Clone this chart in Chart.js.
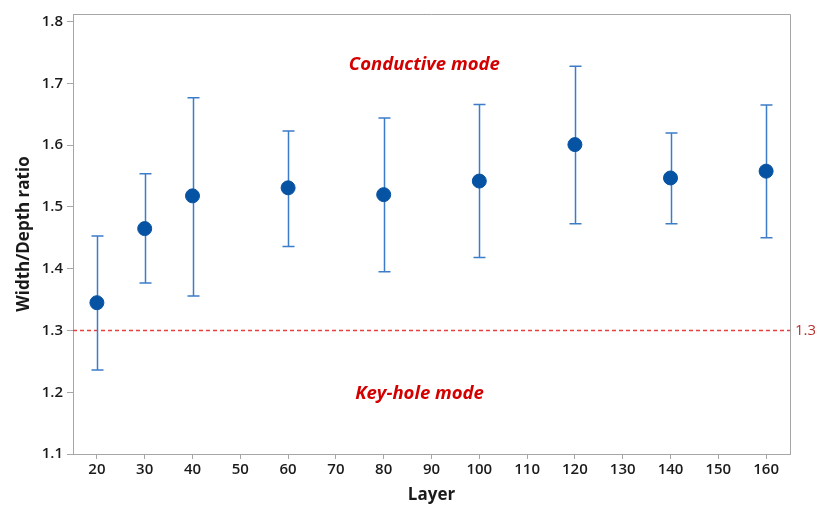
<!DOCTYPE html>
<html>
<head>
<meta charset="utf-8">
<script src="https://cdn.jsdelivr.net/npm/chart.js@4/dist/chart.umd.min.js"></script>
<style>
html,body{margin:0;padding:0;background:#fff;}
#wrap{width:815px;height:505px;}
</style>
</head>
<body>
<div id="wrap"><canvas id="c" width="815" height="505"></canvas></div>
<script>
const layers = [20, 30, 40, 60, 80, 100, 120, 140, 160];
const means  = [1.345, 1.465, 1.518, 1.531, 1.520, 1.542, 1.601, 1.547, 1.558];
const upper  = [1.453, 1.554, 1.677, 1.623, 1.644, 1.666, 1.728, 1.620, 1.665];
const lower  = [1.236, 1.377, 1.356, 1.436, 1.395, 1.418, 1.473, 1.473, 1.450];
const xTicks = [20, 30, 40, 50, 60, 70, 80, 90, 100, 110, 120, 130, 140, 150, 160];
const yTicks = [1.1, 1.2, 1.3, 1.4, 1.5, 1.6, 1.7, 1.8];
const refValue = 1.3;
const notes = [
  {text: 'Conductive mode', x: 88.5, y: 1.731},
  {text: 'Key-hole mode', x: 87.5, y: 1.197}
];

const FONT = '"Open Sans", "Noto Sans", sans-serif';

const errorBars = {
  id: 'errorBars',
  beforeDatasetsDraw(chart) {
    const {ctx, scales: {x, y}} = chart;
    ctx.save();
    ctx.strokeStyle = '#3D7CC9';
    ctx.lineWidth = 1.5;
    layers.forEach((l, i) => {
      const px = Math.round(x.getPixelForValue(l)) + 0.5;
      const pu = y.getPixelForValue(upper[i]);
      const pl = y.getPixelForValue(lower[i]);
      ctx.beginPath();
      ctx.moveTo(px, pu); ctx.lineTo(px, pl);
      ctx.moveTo(px - 6, pu); ctx.lineTo(px + 6, pu);
      ctx.moveTo(px - 6, pl); ctx.lineTo(px + 6, pl);
      ctx.stroke();
    });
    ctx.restore();
  }
};

const extras = {
  id: 'extras',
  beforeDatasetsDraw(chart) {
    const {ctx, chartArea: a, scales: {x, y}} = chart;
    ctx.save();
    // frame top & right
    ctx.strokeStyle = '#A6A6A6';
    ctx.lineWidth = 1;
    ctx.beginPath();
    ctx.moveTo(a.left, a.top + 0.5); ctx.lineTo(a.right + 0.5, a.top + 0.5);
    ctx.lineTo(a.right + 0.5, a.bottom);
    ctx.stroke();
    // reference line
    const py = Math.round(y.getPixelForValue(refValue)) + 0.5;
    ctx.strokeStyle = '#E6403E';
    ctx.lineWidth = 1.4;
    ctx.setLineDash([4, 3]);
    ctx.beginPath();
    ctx.moveTo(a.left, py); ctx.lineTo(a.right, py);
    ctx.stroke();
    ctx.setLineDash([]);
    ctx.fillStyle = '#B83232';
    ctx.font = '15px ' + FONT;
    ctx.textAlign = 'left';
    ctx.textBaseline = 'middle';
    ctx.fillText(String(refValue), a.right + 5, py);
    // notes
    ctx.fillStyle = '#D40000';
    ctx.font = 'italic bold 18.5px ' + FONT;
    ctx.textAlign = 'center';
    notes.forEach(n => {
      ctx.fillText(n.text, x.getPixelForValue(n.x), y.getPixelForValue(n.y));
    });
    ctx.restore();
  }
};

new Chart(document.getElementById('c'), {
  type: 'scatter',
  data: {
    datasets: [{
      data: layers.map((l, i) => ({x: l, y: means[i]})),
      backgroundColor: '#0652A3',
      borderColor: '#0652A3',
      pointRadius: 7,
      pointHoverRadius: 7,
      pointStyle: 'circle'
    }]
  },
  options: {
    responsive: false,
    animation: false,
    devicePixelRatio: 1,
    layout: {padding: {left: 0, right: 25, top: 14, bottom: 0}},
    plugins: {legend: {display: false}, tooltip: {enabled: false}},
    scales: {
      x: {
        type: 'linear',
        min: 15, max: 165,
        afterBuildTicks: s => { s.ticks = xTicks.map(v => ({value: v})); },
        afterFit: s => { s.height = 51; },
        grid: {drawOnChartArea: false, drawTicks: true, tickLength: 5, color: '#A6A6A6'},
        border: {display: true, color: '#A6A6A6', width: 1},
        ticks: {color: '#1a1a1a', font: {family: FONT, size: 15, weight: '600'}, padding: 2, maxRotation: 0},
        title: {display: true, text: 'Layer', color: '#1a1a1a', font: {family: FONT, size: 17, weight: 'bold'}, padding: {top: 1, bottom: 0}}
      },
      y: {
        type: 'linear',
        min: 1.1, max: 1.8125,
        afterBuildTicks: s => { s.ticks = yTicks.map(v => ({value: v})); },
        afterFit: s => { s.width = 73; },
        grid: {drawOnChartArea: false, drawTicks: true, tickLength: 6, color: '#A6A6A6'},
        border: {display: true, color: '#A6A6A6', width: 1},
        ticks: {color: '#1a1a1a', font: {family: FONT, size: 15, weight: '600'}, padding: 4, callback: v => v.toFixed(1)},
        title: {display: true, text: 'Width/Depth ratio', color: '#1a1a1a', font: {family: FONT, size: 17, weight: 'bold'}, padding: {top: 14, bottom: 0}}
      }
    }
  },
  plugins: [extras, errorBars]
});
</script>
</body>
</html>
